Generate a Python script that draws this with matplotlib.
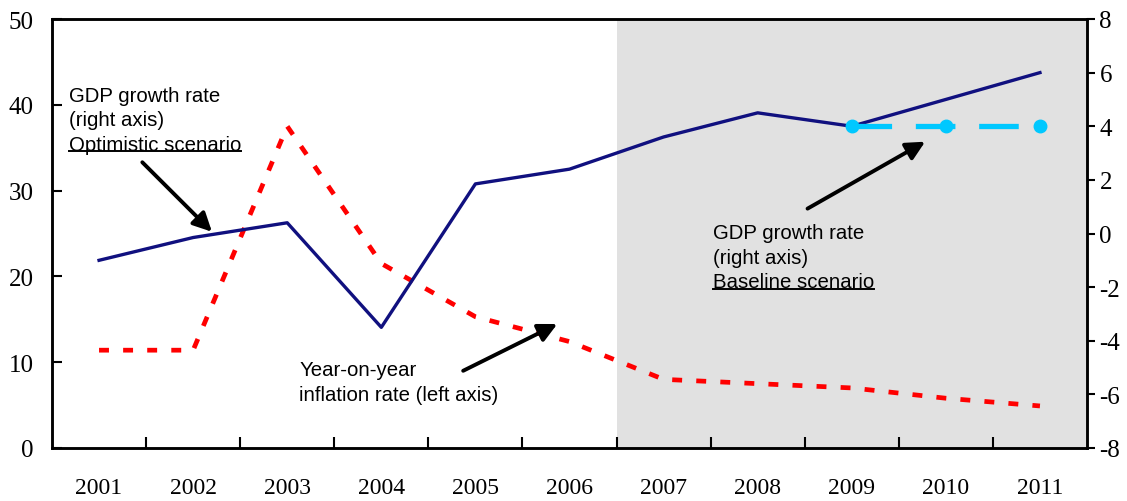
import matplotlib
matplotlib.use("Agg")
import matplotlib.pyplot as plt
import numpy as np

# --- data ---
years = ['2001', '2002', '2003', '2004', '2005', '2006',
         '2007', '2008', '2009', '2010', '2011']
inflation = [11.4, 11.4, 37.5, 21.5, 15.3, 12.4, 8.0, 7.5, 7.0, 5.8, 4.9]
gdp_optimistic = [-1.0, -0.15, 0.4, -3.5, 1.85, 2.4, 3.6, 4.5, 4.0, 5.0, 6.0]
baseline_years = ['2009', '2010', '2011']
gdp_baseline = [4.0, 4.0, 4.0]
forecast_from = '2007'

plt.rcParams['axes.unicode_minus'] = False
SERIF = 'Liberation Serif'
SANS = 'Liberation Sans'

x = np.arange(len(years))
xb = np.array([years.index(y) for y in baseline_years])
shade_start = years.index(forecast_from) - 0.5

fig = plt.figure(figsize=(11.27, 5.02), dpi=100)
ax = fig.add_axes([52 / 1127, 1 - 449 / 502, (1087 - 52) / 1127, (449 - 20) / 502])
ax2 = ax.twinx()

# shaded forecast period
ax.axvspan(shade_start, len(years) - 0.5, color='#e1e1e1', zorder=0, lw=0)

# inflation (left axis)
ax.plot(x, inflation, color='#ff0000', lw=3.4, dashes=(2.1, 3.0),
        solid_capstyle='butt', dash_capstyle='butt', zorder=3)

# GDP (right axis)
ax2.plot(x, gdp_optimistic, color='#10107f', lw=2.4, zorder=3)
ax2.plot(xb, gdp_baseline, color='#00c8ff', lw=3.8, dashes=(7.5, 4.5),
         marker='o', markersize=9, zorder=4)

ax.set_xlim(-0.5, len(years) - 0.5)
ax.set_ylim(0, 50)
ax2.set_ylim(-8, 8)

ax.set_yticks(np.arange(0, 51, 10))
ax2.set_yticks(np.arange(-8, 9, 2))

ax.set_xticks(np.arange(0.5, len(years) - 1, 1.0))
ax.set_xticklabels([])
ax.set_xticks(x, minor=True)
ax.set_xticklabels(years, minor=True, fontfamily=SERIF, fontsize=17)
ax.tick_params(axis='x', which='major', direction='in', length=8, width=1.5)
ax.tick_params(axis='x', which='minor', length=0, pad=21)
ax.tick_params(axis='y', direction='in', length=7, width=1.5, pad=13)
ax2.tick_params(axis='y', direction='out', length=6, width=1.5, pad=3)
for lab in ax.get_yticklabels() + ax2.get_yticklabels():
    lab.set_fontfamily(SERIF)
    lab.set_fontsize(18)

for a in (ax, ax2):
    for s in a.spines.values():
        s.set_linewidth(1.8)

# --- annotations ---
fs = 14.7
line_step = 17.6  # points between text lines
labels = [
    ((-0.32, 42.2), ['GDP growth rate', '(right axis)', 'Optimistic scenario']),
    ((2.13, 10.2), ['Year-on-year', 'inflation rate (left axis)']),
    ((6.52, 26.2), ['GDP growth rate', '(right axis)', 'Baseline scenario']),
]
underlined = []
for pos, lines in labels:
    for i, line in enumerate(lines):
        t = ax2.annotate(line, xy=pos, xycoords=ax.transData,
                         xytext=(0, -i * line_step), textcoords='offset points',
                         ha='left', va='top', fontfamily=SANS, fontsize=fs,
                         zorder=6)
        if 'scenario' in line:
            underlined.append(t)

arrows = [
    ((0.46, 33.3), (1.2, 25.2)),
    ((3.87, 9.0), (4.87, 14.45)),
    ((7.53, 27.9), (8.78, 35.7)),
]
for tail, tip in arrows:
    ax2.annotate('', xy=tip, xycoords=ax.transData,
                 xytext=tail, textcoords=ax.transData,
                 arrowprops=dict(arrowstyle='-|>', color='black', lw=2.8,
                                 mutation_scale=28, shrinkA=0, shrinkB=0),
                 zorder=6)

# underline the scenario lines
fig.canvas.draw()
inv = ax.transAxes.inverted()
for t in underlined:
    bb = t.get_window_extent()
    (x0, y0), (x1, _) = inv.transform([(bb.x0, bb.y0 + 2.5), (bb.x1, bb.y0 + 2.5)])
    ax2.plot([x0, x1], [y0, y0], transform=ax.transAxes, color='black',
             lw=1.4, clip_on=False, zorder=6)

fig.savefig('out.png', dpi=100)
